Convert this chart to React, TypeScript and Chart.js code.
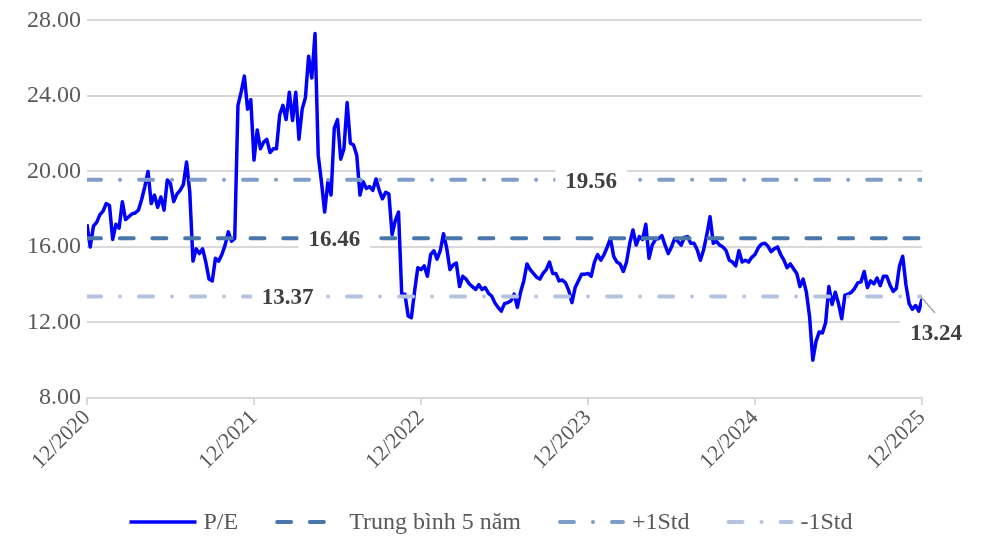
import React, { useEffect, useRef } from 'react';
import { Chart, registerables } from 'chart.js';

Chart.register(...registerables);

// X-axis tick labels (one per year, weekly data in between)
const tickLabels = ['12/2020', '12/2021', '12/2022', '12/2023', '12/2024', '12/2025'];
const WEEKS_PER_YEAR = 52;

// Weekly P/E readings, grouped by year
const peYear1 = [
  17.2, 16.0, 17.1, 17.3, 17.7, 17.9, 18.3, 18.2, 16.4, 17.2,
  17.0, 18.4, 17.45, 17.6, 17.75, 17.8, 17.95, 18.5, 19.2, 20.0,
  18.3, 18.75, 18.1, 18.65, 17.95, 19.55, 19.35, 18.4, 18.8, 19.0,
  19.3, 20.5, 18.9, 15.25, 15.9, 15.65, 15.9, 15.2, 14.3, 14.2,
  15.4, 15.25, 15.6, 16.1, 16.8, 16.3, 16.45, 23.5, 24.2, 25.05,
  23.3, 23.8,
];
const peYear2 = [
  20.6, 22.2, 21.2, 21.55, 21.7, 21.0, 21.2, 21.2, 23.0, 23.5,
  22.75, 24.2, 22.7, 24.2, 21.7, 23.3, 23.9, 26.1, 24.95, 27.3,
  20.85, 19.45, 17.85, 19.45, 18.75, 22.3, 22.75, 20.65, 21.2, 23.65,
  21.5, 21.4, 20.85, 18.75, 19.45, 19.1, 19.2, 19.0, 19.6, 19.0,
  18.55, 18.9, 18.8, 16.65, 17.4, 17.85, 13.5, 13.5, 12.35, 12.25,
  13.65, 14.9,
];
const peYear3 = [
  14.8, 15.0, 14.45, 15.6, 15.8, 15.35, 15.8, 16.7, 15.95, 14.8,
  15.05, 15.15, 13.9, 14.45, 14.3, 14.05, 13.9, 13.75, 14.0, 13.75,
  13.85, 13.55, 13.4, 13.05, 12.8, 12.6, 13.0, 13.05, 13.15, 13.5,
  12.8, 13.6, 14.2, 15.1, 14.8, 14.6, 14.4, 14.3, 14.6, 14.8,
  15.2, 14.6, 14.6, 14.2, 14.25, 14.1, 13.7, 13.05, 13.85, 14.2,
  14.55, 14.55,
];
const peYear4 = [
  14.6, 14.45, 15.2, 15.6, 15.3, 15.6, 16.0, 16.45, 15.5, 15.2,
  15.1, 14.7, 15.2, 16.2, 16.9, 16.1, 16.55, 16.4, 17.2, 15.4,
  16.1, 16.4, 16.45, 16.6, 16.1, 15.65, 16.0, 16.45, 16.3, 16.1,
  16.5, 16.55, 16.2, 16.2, 15.85, 15.3, 15.85, 16.65, 17.6, 16.2,
  16.3, 16.1, 16.0, 15.8, 15.3, 15.2, 15.0, 15.8, 15.2, 15.3,
  15.2, 15.45,
];
const peYear5 = [
  15.6, 15.95, 16.15, 16.2, 16.05, 15.75, 15.9, 16.0, 15.6, 15.3,
  14.9, 15.1, 14.85, 14.6, 13.9, 14.3, 13.6, 12.3, 10.0, 11.0,
  11.5, 11.45, 12.0, 13.9, 12.95, 13.6, 13.0, 12.2, 13.45, 13.5,
  13.6, 13.8, 14.1, 14.15, 14.7, 13.85, 14.2, 14.05, 14.35, 13.95,
  14.45, 14.45, 14.0, 13.65, 13.8, 15.0, 15.5, 14.0, 13.0, 12.7,
  12.9, 12.6, 13.24,
];

// Reference levels
const MEAN_5Y = 16.46;
const PLUS_1STD = 19.56;
const MINUS_1STD = 13.37;

// Series names
const seriesNames = ['P/E', 'Trung bình 5 năm', '+1Std', '-1Std'];

// Y axis
const Y_MIN = 8;
const Y_MAX = 28;
const Y_STEP = 4;

// Where (in week index) the level labels sit
const LABEL_AT_PLUS = 157;
const LABEL_AT_MEAN = 77;
const LABEL_AT_MINUS = 62.5;

const FONT = '"Liberation Serif", "Times New Roman", serif';
const C_PE = '#0000FF';
const C_MEAN = '#4A77AB';
const C_PLUS = '#7F9DC9';
const C_MINUS = '#B4C4E0';
const DASH_MEAN = [14, 18.7];
const DASH_STD = [14, 19, 0.01, 19];

const levelLabelPlugin = {
  id: 'levelLabels',
  afterDatasetsDraw(chart: any) {
    const { ctx } = chart;
    const x = chart.scales.x;
    const y = chart.scales.y;
    ctx.save();
    ctx.font = `bold 23px ${FONT}`;
    const box = (cx: number, cy: number, text: string) => {
      const w = ctx.measureText(text).width + 20;
      const h = 30;
      ctx.fillStyle = '#FFFFFF';
      ctx.fillRect(cx - w / 2, cy - h / 2, w, h);
      ctx.fillStyle = '#404040';
      ctx.textAlign = 'center';
      ctx.textBaseline = 'middle';
      ctx.fillText(text, cx, cy + 1);
    };
    box(x.getPixelForValue(LABEL_AT_PLUS), y.getPixelForValue(PLUS_1STD) + 1, PLUS_1STD.toFixed(2));
    box(x.getPixelForValue(LABEL_AT_MEAN), y.getPixelForValue(MEAN_5Y) + 1, MEAN_5Y.toFixed(2));
    box(x.getPixelForValue(LABEL_AT_MINUS), y.getPixelForValue(MINUS_1STD), MINUS_1STD.toFixed(2));

    // last value with leader line
    const data = chart.data.datasets[0].data;
    const last = data[data.length - 1];
    const px = x.getPixelForValue(last.x);
    const py = y.getPixelForValue(last.y);
    box(px + 14, py + 34, last.y.toFixed(2));
    ctx.strokeStyle = '#A6A6A6';
    ctx.lineWidth = 1.5;
    ctx.beginPath();
    ctx.moveTo(px - 1, py - 2);
    ctx.lineTo(px + 13, py + 14);
    ctx.stroke();
    ctx.restore();
  },
};

const legendPlugin = {
  id: 'customLegend',
  afterDraw(chart: any) {
    const { ctx } = chart;
    ctx.save();
    ctx.font = `24px ${FONT}`;
    const sample = 67;
    const gapText = 7;
    const gapItem = 37;
    const items = chart.data.datasets.map((d: any) => ({
      label: d.label,
      color: d.borderColor,
      dash: d.borderDash || [],
      width: d.borderWidth,
      cap: d.borderCapStyle || 'butt',
    }));
    const total = items.reduce((s: number, it: any) => s + sample + gapText + ctx.measureText(it.label).width, 0) + gapItem * (items.length - 1);
    let xx = chart.width / 2 - total / 2;
    const yy = 522;
    items.forEach((it: any) => {
      ctx.strokeStyle = it.color;
      ctx.lineWidth = it.width;
      ctx.lineCap = it.cap;
      ctx.setLineDash(it.dash);
      ctx.beginPath();
      ctx.moveTo(xx + (it.cap === 'round' ? 2 : 0), yy);
      ctx.lineTo(xx + sample - (it.cap === 'round' ? 2 : 0), yy);
      ctx.stroke();
      ctx.setLineDash([]);
      xx += sample + gapText;
      ctx.fillStyle = '#595959';
      ctx.textAlign = 'left';
      ctx.textBaseline = 'middle';
      ctx.fillText(it.label, xx, yy + 1);
      xx += ctx.measureText(it.label).width + gapItem;
    });
    ctx.restore();
  },
};

export default function App() {
  const ref = useRef<HTMLCanvasElement | null>(null);

  useEffect(() => {
    if (!ref.current) return;
    const pe = [...peYear1, ...peYear2, ...peYear3, ...peYear4, ...peYear5];
    const lastIdx = pe.length - 1;
    const points = pe.map((v, i) => ({ x: i, y: v }));
    const flat = (v: number) => [{ x: 0, y: v }, { x: lastIdx, y: v }];

    const chart = new Chart(ref.current, {
      type: 'line',
      data: {
        datasets: [
          {
            label: seriesNames[0],
            data: points,
            borderColor: C_PE,
            borderWidth: 3.5,
            pointRadius: 0,
            order: 10,
            borderJoinStyle: 'round',
          },
          {
            label: seriesNames[1],
            data: flat(MEAN_5Y),
            borderColor: C_MEAN,
            borderWidth: 4,
            borderDash: DASH_MEAN,
            borderCapStyle: 'round',
            pointRadius: 0,
            order: 1,
          },
          {
            label: seriesNames[2],
            data: flat(PLUS_1STD),
            borderColor: C_PLUS,
            borderWidth: 4,
            borderDash: DASH_STD,
            borderCapStyle: 'round',
            pointRadius: 0,
            order: 2,
          },
          {
            label: seriesNames[3],
            data: flat(MINUS_1STD),
            borderColor: C_MINUS,
            borderWidth: 4,
            borderDash: DASH_STD,
            borderCapStyle: 'round',
            pointRadius: 0,
            order: 3,
          },
        ] as any,
      },
      options: {
        animation: false,
        responsive: true,
        maintainAspectRatio: false,
        layout: { padding: { left: 0, right: 60, top: 17, bottom: 0 } },
        plugins: {
          legend: { display: false },
          tooltip: { enabled: false },
        },
        elements: { line: { tension: 0 }, point: { radius: 0 } },
        scales: {
          x: {
            type: 'linear',
            min: 0,
            max: lastIdx,
            afterFit: (s: any) => { s.height = 147; },
            afterBuildTicks: (s: any) => {
              s.ticks = tickLabels.map((_, i) => ({ value: i * WEEKS_PER_YEAR }));
            },
            ticks: {
              callback: (v: any) => tickLabels[Math.round(Number(v) / WEEKS_PER_YEAR)] ?? '',
              minRotation: 45,
              maxRotation: 45,
              autoSkip: false,
              padding: 0,
              color: '#595959',
              font: { family: FONT, size: 22 },
            },
            grid: {
              drawOnChartArea: false,
              drawTicks: true,
              tickLength: 7,
              color: '#D9D9D9',
              lineWidth: 2,
            },
            border: { display: true, color: '#D9D9D9', width: 2 },
          },
          y: {
            min: Y_MIN,
            max: Y_MAX,
            afterFit: (s: any) => { s.width = 87; },
            ticks: {
              stepSize: Y_STEP,
              callback: (v: any) => Number(v).toFixed(2),
              padding: 6,
              color: '#595959',
              font: { family: FONT, size: 24 },
            },
            grid: { color: '#D9D9D9', lineWidth: 2, drawTicks: false },
            border: { display: false },
          },
        },
      } as any,
      plugins: [levelLabelPlugin, legendPlugin],
    });
    return () => chart.destroy();
  }, []);

  return (
    <div style={{ position: 'absolute', left: 0, top: 0, width: 982, height: 545, background: '#FFFFFF' }}>
      <canvas ref={ref} />
    </div>
  );
}
